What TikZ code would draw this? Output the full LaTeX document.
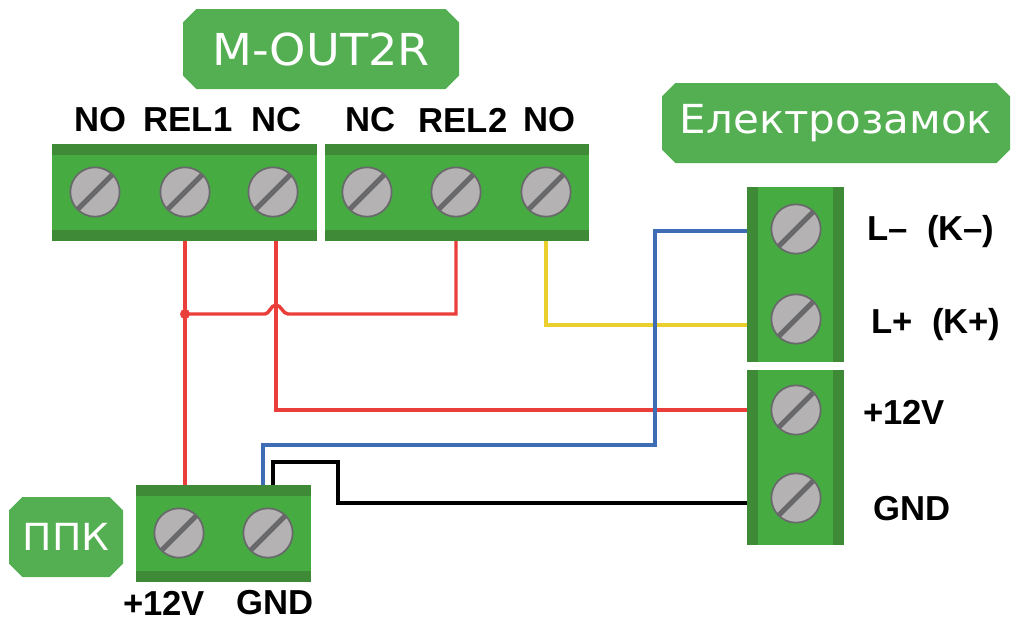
\documentclass[tikz,border=0pt]{standalone}
\usepackage{fontspec}
\usepackage{xcolor}
\usetikzlibrary{calc}
\usetikzlibrary{backgrounds}
\usetikzlibrary{shapes.misc}
\setmainfont{Liberation Sans}
\newfontfamily\headfont[FakeStretch=1.05]{DejaVu Sans}
\definecolor{custom-green}{RGB}{70, 172, 66}
\definecolor{custom-dark}{RGB}{62, 138, 55}
\definecolor{custom-tag}{RGB}{84, 174, 82}
\definecolor{custom-gray}{RGB}{180, 178, 179}
\definecolor{custom-slot}{RGB}{105, 105, 107}
\definecolor{custom-red}{RGB}{233, 62, 58}
\definecolor{custom-blue}{RGB}{62, 109, 181}
\definecolor{custom-yellow}{RGB}{235, 207, 47}
\tikzset{
  blockh/.style={fill=custom-green, inner sep=0pt, minimum height=72.75pt, path picture={
    \fill[custom-dark] (path picture bounding box.north west) rectangle ([yshift=-8.25pt]path picture bounding box.north east);
    \fill[custom-dark] (path picture bounding box.south west) rectangle ([yshift=8.25pt]path picture bounding box.south east);}},
  blockv/.style={fill=custom-green, inner sep=0pt, minimum width=72.75pt, minimum height=131.25pt, path picture={
    \fill[custom-dark] (path picture bounding box.north west) rectangle ([xshift=8.25pt]path picture bounding box.south west);
    \fill[custom-dark] (path picture bounding box.north east) rectangle ([xshift=-8.25pt]path picture bounding box.south east);}},
  screw/.style={circle, draw=custom-slot, line width=1.3pt, fill=custom-gray, inner sep=0pt, minimum size=37pt, path picture={
    \draw[custom-slot, line width=3.8pt] (path picture bounding box.south west) -- (path picture bounding box.north east);}},
  tag/.style={chamfered rectangle, chamfered rectangle xsep=5pt, chamfered rectangle ysep=5pt, fill=custom-tag, inner sep=0pt, minimum height=60pt, text=white, font=\headfont\fontsize{30}{30}\selectfont},
  pin/.style={font=\bfseries\fontsize{26}{26}\selectfont, inner sep=0pt},
  wire/.style={line width=2.6pt, line join=miter}
}
\begin{document}
\begin{tikzpicture}[x=0.75pt, y=-0.75pt]
\useasboundingbox (0,0) rectangle (1011,622);
\node[tag, minimum width=207pt, font=\headfont\fontsize{33}{33}\selectfont] (moutr) at (321,49) {M-OUT2R};
\node[tag, minimum width=261pt] (lock) at (836,123) {Електрозамок};
\node[tag, minimum width=85.5pt, font=\headfont\fontsize{28}{28}\selectfont] (ppk) at (66,537) {ППК};
\node[blockh, minimum width=198.75pt] (rela) at (184.5,192.5) {};
\node[blockh, minimum width=198pt] (relb) at (457,192.5) {};
\node[blockv] (locka) at (795.5,274.5) {};
\node[blockv] (lockb) at (795.5,457.5) {};
\node[blockh, minimum width=131.25pt] (ppkb) at (223.5,533.5) {};
\foreach \name/\x in {noa/95, rela1/185, nca/273, ncb/367, relb1/456, nob/546}
  \node[screw] (\name) at (\x,192) {};
\foreach \name/\y in {lminus/229, lplus/319, vplus/410, vgnd/498}
  \node[screw] (\name) at (796,\y) {};
\node[screw] (ppkplus) at (179,533) {};
\node[screw] (ppkgnd) at (268,533) {};
\coordinate (jump) at (276,314);
\node[circle, fill=custom-red, inner sep=0pt, minimum size=7.5pt] (dot) at (185,314) {};
\begin{scope}[on background layer]
\draw[wire, custom-red] (rela1.south) -- (dot.center) -- (dot |- ppkb.north);
\draw[wire, custom-red] (dot.center) -- ($(jump)+(-11,0)$) .. controls ($(jump)+(-7,0)$) and ($(jump)+(-5,-9)$) .. ($(jump)+(0,-9)$) .. controls ($(jump)+(5,-9)$) and ($(jump)+(7,0)$) .. ($(jump)+(12,0)$) -| (relb1.south);
\draw[wire, custom-red] ($(nca.south)+(3,0)$) |- (vplus.west);
\draw[wire, custom-yellow] (nob.south) |- ($(lplus.west)+(0,6)$);
\draw[wire, custom-blue] ($(ppkgnd.north)+(-5,0)$) |- (655,445) |- ($(lminus.west)+(0,2)$);
\draw[wire, black] ($(ppkgnd.north)+(5,0)$) |- (338,462) |- ($(vgnd.west)+(0,5)$);
\end{scope}
\node[pin] (tnoa) at (100,120) {NO};
\node[pin] (trela) at (188,120) {REL1};
\node[pin] (tnca) at (277,120) {NC};
\node[pin] (tncb) at (371,120) {NC};
\node[pin] (trelb) at (463,120) {REL2};
\node[pin] (tnob) at (549,120) {NO};
\node[pin] (tlminus) at (931,232) {L–\ \ (K–)};
\node[pin] (tlplus) at (936,325) {L+\ \ (K+)};
\node[pin] (tvplus) at (904,412) {+12V};
\node[pin] (tvgnd) at (912,509) {GND};
\node[pin] (tppkplus) at (164,603) {+12V};
\node[pin] (tppkgnd) at (275,603) {GND};
\end{tikzpicture}
\end{document}
